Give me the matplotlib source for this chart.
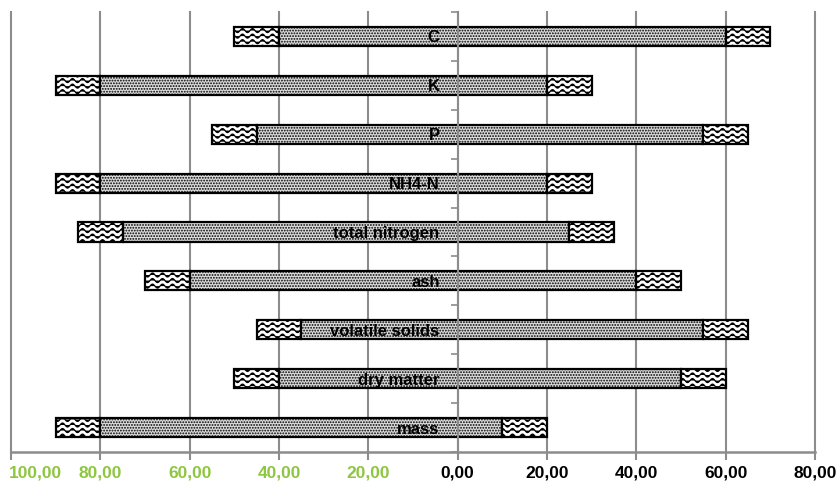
import warnings
import numpy as np
import matplotlib
matplotlib.use("Agg")
import matplotlib.pyplot as plt
import matplotlib.hatch as mhatch
from matplotlib.path import Path
from matplotlib.ticker import FuncFormatter
import matplotlib.transforms as mtransforms

warnings.filterwarnings("ignore")

# Daten
categories = ["mass", "dry matter", "volatile solids", "ash", "total nitrogen",
              "NH4-N", "P", "K", "C"]
wave_left_start = [-90, -50, -45, -70, -85, -90, -55, -90, -50]
dots_start = [-80, -40, -35, -60, -75, -80, -45, -80, -40]
dots_end = [10, 50, 55, 40, 25, 20, 55, 20, 60]
wave_right_end = [20, 60, 65, 50, 35, 30, 65, 30, 70]
x_ticks = [-100, -80, -60, -40, -20, 0, 20, 40, 60, 80]

GREEN = "#8DC63F"
GRID = "#8C8C8C"


# Wellen-Schraffur ('~') als eigener Hatch-Typ
class WavyHatch(mhatch.HatchPatternBase):
    def __init__(self, hatch, density):
        self.num_lines = int(hatch.count("~") * density)
        self.n_pts = 121
        self.num_vertices = self.num_lines * self.n_pts

    def set_vertices_and_codes(self, vertices, codes):
        n = self.n_pts
        t = np.linspace(0.0, 1.0, n)
        for i in range(self.num_lines):
            y0 = (i + 0.5) / self.num_lines
            sl = slice(i * n, (i + 1) * n)
            vertices[sl, 0] = t
            vertices[sl, 1] = y0 + 0.02 * np.sin(2 * np.pi * 10 * t)
            codes[sl] = Path.LINETO
            codes[i * n] = Path.MOVETO


mhatch._hatch_types.append(WavyHatch)

plt.rcParams["font.family"] = ["Liberation Sans", "DejaVu Sans"]
plt.rcParams["hatch.linewidth"] = 0.9

fig = plt.figure(figsize=(8.38, 4.84), dpi=100)
ax = fig.add_axes([11 / 838, 32 / 484, 804 / 838, 440 / 484])

y = np.arange(len(categories))
lw = np.array(wave_left_start)
ds = np.array(dots_start)
de = np.array(dots_end)
wr = np.array(wave_right_end)

h = 0.39
ax.barh(y, ds - lw, left=lw, height=h, color="white", edgecolor="black",
        linewidth=1.6, hatch="~~~", zorder=2)
ax.barh(y, de - ds, left=ds, height=h, color="#dcdcdc", edgecolor="black",
        linewidth=1.6, hatch="......", zorder=2)
ax.barh(y, wr - de, left=de, height=h, color="white", edgecolor="black",
        linewidth=1.6, hatch="~~~", zorder=2)

# Achsen
ax.set_xlim(-100, 80)
ax.set_ylim(-0.5, len(categories) - 0.5)
ax.set_xticks(x_ticks)
ax.xaxis.set_major_formatter(FuncFormatter(lambda v, p: f"{abs(v):.2f}".replace(".", ",")))
ax.tick_params(axis="x", direction="out", length=6, width=1.5, color=GRID, pad=4)

ax.set_yticks(y)
ax.set_yticklabels(categories)
ax.set_yticks(np.arange(-0.5, len(categories), 1.0), minor=True)
ax.tick_params(axis="y", which="major", length=0, pad=13)
ax.tick_params(axis="y", which="minor", direction="out", length=5, width=1.2, color=GRID)

ax.grid(axis="x", color=GRID, linewidth=1.5)
for gl in ax.get_xgridlines():
    gl.set_clip_on(False)

ax.spines["left"].set_position(("data", 0))
ax.spines["left"].set_color(GRID)
ax.spines["left"].set_linewidth(1.5)
ax.spines["left"].set_zorder(3)
ax.spines["bottom"].set_color(GRID)
ax.spines["bottom"].set_linewidth(1.8)
ax.spines["top"].set_visible(False)
ax.spines["right"].set_visible(False)

ax.xaxis.set_zorder(0.5)
ax.yaxis.set_zorder(4)

# Beschriftungen formatieren
xlabels = ax.get_xticklabels()
for lab, v in zip(xlabels, x_ticks):
    lab.set_color(GREEN if v < 0 else "black")
    lab.set_fontweight("bold")
    lab.set_fontsize(12.5)
xlabels[0].set_horizontalalignment("left")
xlabels[0].set_transform(xlabels[0].get_transform() +
                         mtransforms.ScaledTranslation(-2 / 100, 0, fig.dpi_scale_trans))
for lab in ax.get_yticklabels():
    lab.set_fontweight("bold")
    lab.set_fontsize(12)

fig.savefig("out.png", dpi=100)
plt.close(fig)
